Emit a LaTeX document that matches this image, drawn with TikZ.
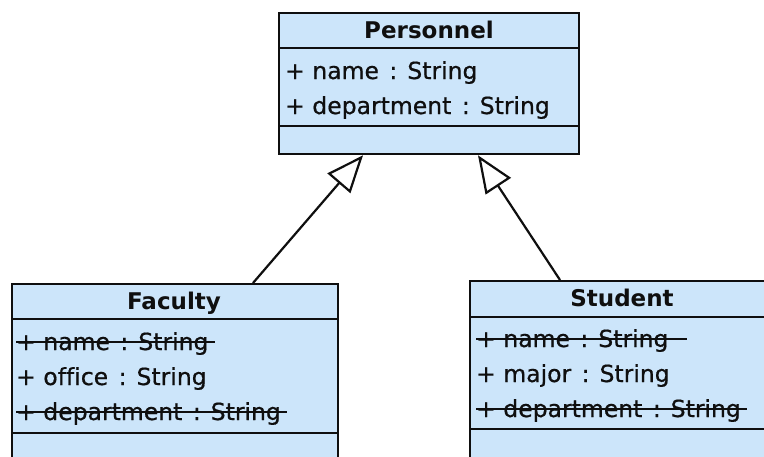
\documentclass[tikz,border=0pt]{standalone}
\usepackage{fontspec}
\setmainfont{DejaVu Sans}[Ligatures=NoCommon]
\newfontfamily\attrfont{DejaVu Sans}[Ligatures=NoCommon, FakeBold=0.6]
\usetikzlibrary{arrows.meta}
\definecolor{classfill}{RGB}{204,229,250}
\definecolor{ink}{RGB}{15,15,15}
\newcommand{\cl}{\hspace{3pt}:}
\tikzset{
  classbox/.style={draw=ink, line width=2.3pt, fill=classfill, anchor=north west, inner sep=0pt},
  sepline/.style={draw=ink, line width=2.3pt},
  title/.style={anchor=base, inner sep=0pt, font=\fontsize{23}{27}\selectfont\bfseries, text=ink},
  attr/.style={anchor=base west, inner sep=0pt, font=\attrfont\fontsize{23.5}{27}\selectfont, text=ink},
  strike/.style={draw=ink, line width=1.3pt},
  gen/.style={draw=ink, line width=2.2pt, -{Triangle[open, length=37pt, width=30pt, fill=white]}}
}
\begin{document}
\begin{tikzpicture}[x=1pt,y=-1pt]
\useasboundingbox (0,0) rectangle (764,456);
\clip (0,0) rectangle (764,456);
\fill[white] (0,0) rectangle (764,456);

% Personnel
\node[classbox, minimum width=300pt, minimum height=141pt] (per) at (278,12) {};
\draw[sepline] (278,48) -- (578,48);
\draw[sepline] (278,126) -- (578,126);
\node[title] (pert) at (429,38) {Personnel};
\node[attr] (pa1) at (285,79) {+ name \cl{} String};
\node[attr] (pa2) at (285,114) {+ department \cl{} String};

% Faculty
\node[classbox, minimum width=326pt, minimum height=200pt] (fac) at (11,283) {};
\draw[sepline] (11,319) -- (337,319);
\draw[sepline] (11,433) -- (337,433);
\node[title] (fact) at (174,309) {Faculty};
\node[attr] (fa1) at (16,350) {+ name \cl{} String};
\node[attr] (fa2) at (16,385) {+ office \cl{} String};
\node[attr] (fa3) at (16,420) {+ department \cl{} String};
\draw[strike] ([yshift=8pt]fa1.base west) -- ([yshift=8pt,xshift=6pt]fa1.base east);
\draw[strike] ([yshift=8pt]fa3.base west) -- ([yshift=8pt,xshift=6pt]fa3.base east);

% Student
\node[classbox, minimum width=320pt, minimum height=200pt] (stu) at (469,280) {};
\draw[sepline] (469,317) -- (780,317);
\draw[sepline] (469,429) -- (780,429);
\node[title] (stut) at (622,306) {Student};
\node[attr] (sa1) at (476,347) {+ name \cl{} String};
\node[attr] (sa2) at (476,382) {+ major \cl{} String};
\node[attr] (sa3) at (476,417) {+ department \cl{} String};
\draw[strike] ([yshift=8pt]sa1.base west) -- ([yshift=8pt,xshift=18pt]sa1.base east);
\draw[strike] ([yshift=8pt]sa3.base west) -- ([yshift=8pt,xshift=6pt]sa3.base east);

% Generalizations
\draw[gen] ([xshift=242pt]fac.north west) -- ([xshift=85pt]per.south west);
\draw[gen] ([xshift=91pt]stu.north west) -- ([xshift=200pt]per.south west);
\end{tikzpicture}
\end{document}
